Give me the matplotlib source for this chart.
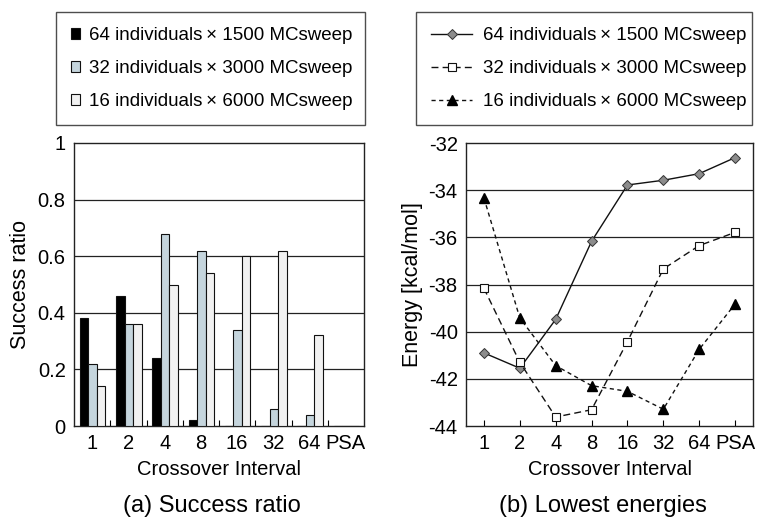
import matplotlib
matplotlib.use("Agg")
import matplotlib.pyplot as plt
import numpy as np
from matplotlib.ticker import FixedLocator

plt.rcParams['font.family'] = ['Liberation Sans', 'DejaVu Sans']

categories = ["1", "2", "4", "8", "16", "32", "64", "PSA"]
series_labels = ["64 individuals\u2009\u00d7 1500 MCsweep",
                 "32 individuals\u2009\u00d7 3000 MCsweep",
                 "16 individuals\u2009\u00d7 6000 MCsweep"]

success_64 = [0.38, 0.46, 0.24, 0.02, 0.0, 0.0, 0.0, 0.0]
success_32 = [0.22, 0.36, 0.68, 0.62, 0.34, 0.06, 0.04, 0.0]
success_16 = [0.14, 0.36, 0.50, 0.54, 0.60, 0.62, 0.32, 0.0]

energy_64 = [-40.9, -41.55, -39.48, -36.17, -33.78, -33.58, -33.3, -32.62]
energy_32 = [-38.16, -41.3, -43.62, -43.31, -40.42, -37.34, -36.35, -35.79]
energy_16 = [-34.33, -39.42, -41.44, -42.29, -42.53, -43.29, -40.75, -38.83]

W, H = 760, 517
fig = plt.figure(figsize=(W / 100, H / 100), dpi=100)

def ax_rect(x0, x1, y0, y1):
    return [x0 / W, 1 - y1 / H, (x1 - x0) / W, (y1 - y0) / H]

axL = fig.add_axes(ax_rect(74, 364, 143, 426))
axR = fig.add_axes(ax_rect(466, 753, 143, 426))

TICK_FS = 14.5
LABEL_FS = 15.5
XLAB_FS = 14.5
CAP_FS = 17
LEG_FS = 13.5

# ---- Left: bar chart ----
x = np.arange(len(categories))
bw = 0.235
bar_colors = ["#000000", "#c5d5dd", "#f1f1f1"]
for i, (vals, col, lab) in enumerate(zip([success_64, success_32, success_16],
                                         bar_colors, series_labels)):
    axL.bar(x + (i - 1) * bw + 0.015, vals, width=bw, color=col,
            edgecolor="#111111", linewidth=0.8, label=lab, zorder=3)

axL.set_xlim(-0.5, len(categories) - 0.5)
axL.set_ylim(0, 1)
axL.set_yticks([0, 0.2, 0.4, 0.6, 0.8, 1.0])
axL.set_yticklabels(["0", "0.2", "0.4", "0.6", "0.8", "1"])
axL.set_xticks(x)
axL.set_xticklabels(categories)
axL.xaxis.set_minor_locator(FixedLocator(x[:-1] + 0.5))
axL.tick_params(axis="x", which="major", length=0, pad=6, labelsize=TICK_FS)
axL.tick_params(axis="x", which="minor", direction="in", length=4, width=0.8)
axL.tick_params(axis="y", length=0, pad=6, labelsize=TICK_FS)
for yv in [0.2, 0.4, 0.6, 0.8]:
    axL.axhline(yv, color="#222222", linewidth=0.9, zorder=1)
axL.set_ylabel("Success ratio", fontsize=LABEL_FS, va="center")
axL.yaxis.set_label_coords(-0.186, 0.5)
axL.set_xlabel("Crossover Interval", fontsize=XLAB_FS, labelpad=5)
for sp in axL.spines.values():
    sp.set_linewidth(1.0)
    sp.set_color("#222222")

# ---- Right: line chart ----
axR.plot(x, energy_64, color="#111111", linewidth=1.0, linestyle="-",
         marker="D", markersize=5.5, markerfacecolor="#8c8c8c",
         markeredgecolor="#333333", markeredgewidth=0.7, label=series_labels[0],
         zorder=3)
axR.plot(x, energy_32, color="#111111", linewidth=1.0, linestyle=(0, (5, 3)),
         marker="s", markersize=5.5, markerfacecolor="white",
         markeredgecolor="#111111", markeredgewidth=0.8, label=series_labels[1],
         zorder=3)
axR.plot(x, energy_16, color="#111111", linewidth=1.0, linestyle=(0, (3, 2.5)),
         marker="^", markersize=6.5, markerfacecolor="#000000",
         markeredgecolor="#000000", label=series_labels[2], zorder=3)
axR.set_xlim(-0.5, len(categories) - 0.5)
axR.set_ylim(-44, -32)
axR.set_yticks(np.arange(-44, -31, 2))
axR.set_yticklabels([str(v) for v in range(-44, -31, 2)])
axR.set_xticks(x)
axR.set_xticklabels(categories)
axR.tick_params(axis="x", direction="in", length=4, width=0.8, pad=6,
                labelsize=TICK_FS)
axR.tick_params(axis="y", length=0, pad=6, labelsize=TICK_FS)
for yv in [-34, -36, -38, -40, -42]:
    axR.axhline(yv, color="#222222", linewidth=0.9, zorder=1)
axR.set_ylabel("Energy [kcal/mol]", fontsize=LABEL_FS, va="center")
axR.yaxis.set_label_coords(-0.188, 0.5)
axR.set_xlabel("Crossover Interval", fontsize=XLAB_FS, labelpad=5)
for sp in axR.spines.values():
    sp.set_linewidth(1.0)
    sp.set_color("#222222")

# ---- Legends ----
hL, lL = axL.get_legend_handles_labels()
legL = fig.legend(hL, lL, loc="upper left",
                  bbox_to_anchor=(56 / W, 1 - 12 / H, 309 / W, 0.0),
                  mode="expand", fontsize=LEG_FS, frameon=True, fancybox=False,
                  edgecolor="#222222", handlelength=0.5, handleheight=0.5,
                  handletextpad=0.45, labelspacing=0.85, borderpad=0.8,
                  borderaxespad=0)
legL.get_frame().set_linewidth(1.0)

hR, lR = axR.get_legend_handles_labels()
legR = fig.legend(hR, lR, loc="upper left",
                  bbox_to_anchor=(416 / W, 1 - 12 / H, 336 / W, 0.0),
                  mode="expand", fontsize=LEG_FS, frameon=True, fancybox=False,
                  edgecolor="#222222", handlelength=2.2, handletextpad=0.55,
                  labelspacing=0.85, borderpad=0.8, borderaxespad=0)
legR.get_frame().set_linewidth(1.0)

# ---- Captions ----
fig.text(212 / W, 1 - 506 / H, "(a) Success ratio", ha="center", va="center",
         fontsize=CAP_FS)
fig.text(603 / W, 1 - 506 / H, "(b) Lowest energies", ha="center", va="center",
         fontsize=CAP_FS)

fig.savefig("out.png", dpi=100)
